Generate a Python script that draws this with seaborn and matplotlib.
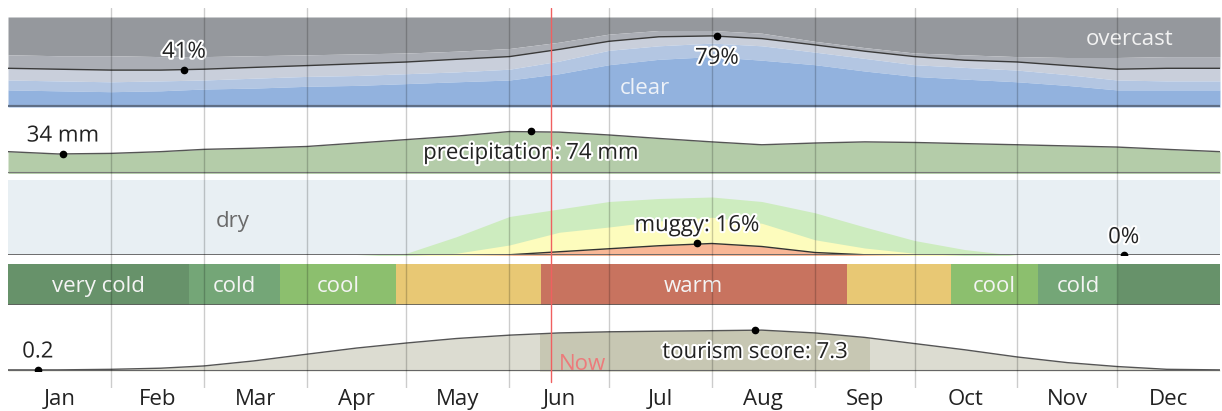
import numpy as np
import pandas as pd
import matplotlib
matplotlib.use("Agg")
import matplotlib.pyplot as plt
import matplotlib.patheffects as pe
from matplotlib.patches import Rectangle
import seaborn as sns

sns.set_theme(style="white")
plt.rcParams["font.family"] = ["Open Sans", "DejaVu Sans"]

# ---------------- data ----------------
days = [0, 15, 31, 46, 59, 74, 90, 105, 120, 135, 151, 166, 181, 196, 212,
        227, 243, 258, 273, 288, 304, 319, 334, 349, 365]

# cloud cover, cumulative % from the bottom
cloud_clear = [19, 18, 17, 18, 20, 21, 23, 24, 26, 28, 30, 37, 47, 53, 56,
               52, 47, 40, 34, 31, 28, 24, 19, 19, 19]
cloud_mostly_clear = [30, 29, 28, 29, 30, 32, 34, 35, 37, 39, 42, 51, 63, 68, 71,
                      68, 61, 54, 47, 44, 41, 36, 30, 29, 29]
cloud_partly = [43, 42, 41, 41, 42, 44, 46, 48, 50, 53, 56, 64, 73, 78, 79,
                76, 69, 62, 56, 52, 50, 46, 42, 43, 43]
cloud_mostly_cloudy = [58, 57, 57, 56, 56, 57, 58, 59, 60, 62, 65, 72, 81, 85, 85,
                       82, 73, 66, 60, 58, 56, 55, 55, 56, 56]

# precipitation, mm
precip_mm = [38, 34, 35, 38, 42, 44, 47, 53, 59, 65, 73, 72, 67, 61, 55,
             50, 53, 55, 54, 52, 50, 48, 46, 42, 38]

# humidity, cumulative % from the bottom
humid_green = [0, 0, 0, 0, 0, 0, 0, 0, 3, 25, 52, 62, 72, 76, 78,
               72, 57, 38, 20, 8, 0, 0, 0, 0, 0]
humid_yellow = [0, 0, 0, 0, 0, 0, 0, 0, 0, 3, 14, 31, 38, 46, 51,
                43, 21, 10, 3, 0, 0, 0, 0, 0, 0]
humid_muggy = [0, 0, 0, 0, 0, 0, 0, 0, 0, 0, 1, 5, 9, 13, 16,
               12, 4, 1, 0, 0, 0, 0, 0, 0, 0]

# temperature bands: start day, end day, category, shown label
band_start = [0, 54.4, 82.0, 116.9, 160.4, 252.7, 284.0, 310.2, 334.3]
band_end = [54.4, 82.0, 116.9, 160.4, 252.7, 284.0, 310.2, 334.3, 365]
band_cat = ["very cold", "cold", "cool", "comfortable", "warm",
            "comfortable", "cool", "cold", "very cold"]
band_label = ["very cold", "cold", "cool", "", "warm", "", "cool", "cold", ""]

# tourism score
tourism = [0.2, 0.2, 0.3, 0.5, 0.9, 1.8, 3.0, 4.1, 5.0, 5.8, 6.4, 6.8, 7.0, 7.1, 7.2,
           7.3, 6.8, 6.0, 4.9, 3.8, 2.5, 1.5, 0.8, 0.3, 0.2]
best_start, best_end = 160.3, 259.3

now_day = 163.5
month_names = ["Jan", "Feb", "Mar", "Apr", "May", "Jun", "Jul", "Aug", "Sep",
               "Oct", "Nov", "Dec"]
month_starts = [0, 31, 59, 90, 120, 151, 181, 212, 243, 273, 304, 334, 365]

# annotations: (day, value, text, direction)
cloud_notes = [(53, 41, "41%", 1), (213.5, 79, "79%", -1)]
precip_notes = [(16.5, 34, "34 mm", 1), (157.5, 74, "precipitation: 74 mm", -1)]
humid_notes = [(207.5, 16, "muggy: 16%", 1), (336, 0, "0%", 1)]
tour_notes = [(9, 0.2, "0.2", 1), (225, 7.3, "tourism score: 7.3", -1)]

df = pd.DataFrame({"day": days, "clear": cloud_clear, "mclear": cloud_mostly_clear,
                   "partly": cloud_partly, "mcloudy": cloud_mostly_cloudy,
                   "precip": precip_mm, "green": humid_green, "yellow": humid_yellow,
                   "muggy": humid_muggy, "tour": tourism})

# ---------------- layout ----------------
W, H = 1222, 411
fig = plt.figure(figsize=(W / 100, H / 100), dpi=100)
fig.patch.set_facecolor("white")
L, R = 8, 1220
PXD = (R - L) / 365.0


def ax_at(top, bottom, left=L, right=R):
    ax = fig.add_axes([left / W, 1 - bottom / H, (right - left) / W, (bottom - top) / H])
    ax.set_xlim(0, 365)
    ax.set_axis_off()
    return ax


halo = [pe.withStroke(linewidth=3, foreground="white")]
FS = 16
DROP = -1.6  # points: compensate for descender space in bbox centring


def note(ax, x, y, text, direction):
    ax.plot([x], [y], "o", color="black", ms=4.5, zorder=6)
    ax.annotate(text, (x, y), xytext=(0, 14.5 * direction + DROP),
                textcoords="offset points",
                ha="center", va="center", fontsize=FS, color="#222222",
                path_effects=halo, zorder=7)


def label(ax, x, y, text, color):
    ax.annotate(text, (x, y), xytext=(0, DROP), textcoords="offset points",
                ha="center", va="center", fontsize=FS, color=color)


# cloud panel
ax1 = ax_at(17, 107)
ax1.set_ylim(0, 100)
ax1.fill_between(df.day, df.mcloudy, 100, color="#95989d", lw=0)
ax1.fill_between(df.day, df.partly, df.mcloudy, color="#abaeb5", lw=0)
ax1.fill_between(df.day, df.mclear, df.partly, color="#c9cfdb", lw=0)
ax1.fill_between(df.day, df.clear, df.mclear, color="#b3c6e2", lw=0)
ax1.fill_between(df.day, 0, df.clear, color="#92b2de", lw=0)
sns.lineplot(data=df, x="day", y="partly", ax=ax1, color="#3a3a3a", lw=1)
ax1.axhline(0.6, color="#5f6f86", lw=1.6)
for d, v, t, s in cloud_notes:
    note(ax1, d, v, t, s)
label(ax1, (1130 - L) / PXD, 77.5, "overcast", "#f2f2f2")
label(ax1, (645 - L) / PXD, 23.5, "clear", "#eef2f8")

# precipitation panel
ax2 = ax_at(112, 173.5)
ax2.set_ylim(0, 107)
ax2.fill_between(df.day, 0, df.precip, color="#b4cca9", lw=0)
sns.lineplot(data=df, x="day", y="precip", ax=ax2, color="#555555", lw=1)
ax2.axhline(0, color="#777777", lw=1.5)
for d, v, t, s in precip_notes:
    note(ax2, d, v, t, s)

# humidity panel
ax3 = ax_at(180.5, 255.5)
ax3.set_ylim(0, 100)
ax3.add_patch(Rectangle((0, 0), 365, 100, color="#e8eff3", lw=0, zorder=0))
ax3.fill_between(df.day, 0, df.green, color="#cdecbf", lw=0)
ax3.fill_between(df.day, 0, df.yellow, color="#fdfcbd", lw=0)
ax3.fill_between(df.day, 0, df.muggy, color="#f8b796", lw=0)
sns.lineplot(data=df, x="day", y="muggy", ax=ax3, color="#333333", lw=1)
ax3.axhline(0.5, color="#666666", lw=1.3)
for d, v, t, s in humid_notes:
    note(ax3, d, v, t, s)
label(ax3, (233 - L) / PXD, (255.5 - 219) / 0.75, "dry", "#6a6a6a")

# temperature band panel
band_colors = {"very cold": "#67926a", "cold": "#74a677", "cool": "#8cbf6e",
               "comfortable": "#e8c874", "warm": "#c8735f"}
ax4 = ax_at(264, 305)
ax4.set_ylim(0, 1)
for s, e, c, lab in zip(band_start, band_end, band_cat, band_label):
    ax4.axvspan(s, e, color=band_colors[c], lw=0)
    if lab:
        label(ax4, (s + e) / 2, 0.5, lab, "#f4f4f4")
ax4.axhline(0.01, color="#5a5a5a", lw=1.2)

# tourism panel
ax5 = ax_at(315, 371)
ax5.set_ylim(0, 10)
ax5.fill_between(df.day, 0, df.tour, color="#dcdcd1", lw=0)
dark = ax5.fill_between(df.day, 0, df.tour, color="#c7c7b3", lw=0)
clip = Rectangle((best_start, 0), best_end - best_start, 10, transform=ax5.transData)
dark.set_clip_path(clip)
sns.lineplot(data=df, x="day", y="tour", ax=ax5, color="#555555", lw=1)
ax5.axhline(0, color="#666666", lw=1.5)
for d, v, t, s in tour_notes:
    note(ax5, d, v, t, s)
ax5.annotate("Now", (now_day, 0), xytext=(6, 5.0), textcoords="offset points",
             ha="left", va="center", fontsize=FS, color="#ec7b7b")

# overlay: month grid, now line, month labels
axo = fig.add_axes([L / W, 1 - 388 / H, (R - L) / W, (388 - 8) / H])
axo.set_xlim(0, 365)
axo.set_ylim(0, 1)
axo.patch.set_alpha(0)
for sp in axo.spines.values():
    sp.set_visible(False)
axo.set_yticks([])
for m in month_starts[1:-1]:
    axo.axvline(m, color="black", alpha=0.2, lw=1)
axo.axvline(now_day, ymin=(388 - 382) / 380, ymax=1, color="#f06060", lw=1)
mids = [(a + b) / 2 for a, b in zip(month_starts[:-1], month_starts[1:])]
axo.set_xticks(mids)
axo.set_xticklabels(month_names, fontsize=FS, color="#222222")
axo.tick_params(axis="x", length=0, pad=0.5)

fig.savefig("out.png", dpi=100, facecolor="white")
